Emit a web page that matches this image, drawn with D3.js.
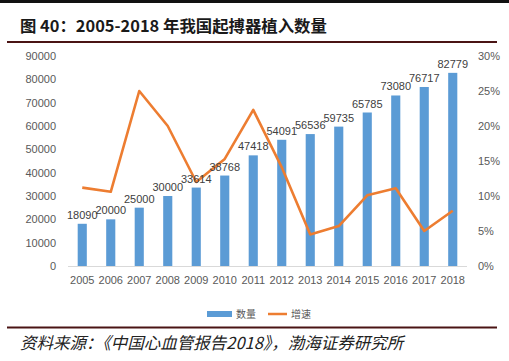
<!DOCTYPE html>
<html><head><meta charset="utf-8">
<script src="https://cdn.jsdelivr.net/npm/d3@7"></script>
<style>body{margin:0;background:#fff}svg{display:block}</style>
</head><body>
<script>
const years = ["2005","2006","2007","2008","2009","2010","2011","2012","2013","2014","2015","2016","2017","2018"];
const counts = [18090,20000,25000,30000,33614,38768,47418,54091,56536,59735,65785,73080,76717,82779];
const growth = [0.112,0.106,0.25,0.20,0.12,0.153,0.223,0.141,0.045,0.057,0.101,0.111,0.05,0.079];
const leftTicks = [0,10000,20000,30000,40000,50000,60000,70000,80000,90000];
const rightTicks = [0,0.05,0.10,0.15,0.20,0.25,0.30];
const legendLabels = ["数量","增速"];
const titleText = "图 40：2005-2018 年我国起搏器植入数量";
const sourceText = "资料来源：《中国心血管报告2018》，渤海证券研究所";

const W=509,H=361;
const svg=d3.select("body").append("svg").attr("width",W).attr("height",H);
svg.append("rect").attr("width",W).attr("height",H).attr("fill","#fff");
svg.append("rect").attr("x",0).attr("y",0).attr("width",W).attr("height",3).attr("fill","#111");

svg.append("text").attr("x",20).attr("y",32).text(titleText)
  .attr("font-family","'Noto Sans CJK SC',sans-serif").attr("font-weight","bold").attr("font-size",16.4).attr("fill","#1a1a1a");
svg.append("line").attr("x1",7).attr("x2",497).attr("y1",42).attr("y2",42).attr("stroke","#4a1414").attr("stroke-width",2);
svg.append("line").attr("x1",7).attr("x2",497).attr("y1",327.5).attr("y2",327.5).attr("stroke","#4a1414").attr("stroke-width",2);
svg.append("text").attr("x",20).attr("y",349).text(sourceText)
  .attr("font-family","'Noto Sans CJK SC',sans-serif").attr("font-style","italic").attr("font-size",16.5).attr("fill","#222");

const x=d3.scaleBand().domain(years).range([68,467]).paddingInner(0.68).paddingOuter(0.34);
const yL=d3.scaleLinear().domain([0,90000]).range([266,56]);
const yR=d3.scaleLinear().domain([0,0.30]).range([266,56]);
const font="'Liberation Sans','DejaVu Sans',sans-serif";
const tc="#595959";

// axes
const gL=svg.append("g").attr("transform","translate(62,0)")
  .call(d3.axisLeft(yL).tickValues(leftTicks).tickSize(0).tickPadding(6).tickFormat(d3.format("d")));
const gR=svg.append("g").attr("transform","translate(472,0)")
  .call(d3.axisRight(yR).tickValues(rightTicks).tickSize(0).tickPadding(6).tickFormat(d3.format(".0%")));
const gX=svg.append("g").attr("transform","translate(0,266)")
  .call(d3.axisBottom(x).tickSize(0).tickPadding(10));
[gL,gR,gX].forEach(g=>{
  g.select(".domain").remove();
  g.selectAll("text").attr("font-family",font).attr("font-size",11).attr("fill",tc);
});
svg.append("line").attr("x1",68).attr("x2",467).attr("y1",266.5).attr("y2",266.5).attr("stroke","#d9d9d9");

// bars
svg.append("g").selectAll("rect").data(counts).join("rect")
  .attr("x",(d,i)=>x(years[i])).attr("width",x.bandwidth())
  .attr("y",d=>yL(d)).attr("height",d=>yL(0)-yL(d)).attr("fill","#5b9bd5");

// line
const line=d3.line().x((d,i)=>x(years[i])+x.bandwidth()/2).y(d=>yR(d));
svg.append("path").datum(growth).attr("d",line).attr("fill","none")
  .attr("stroke","#ed7d31").attr("stroke-width",2.6).attr("stroke-linejoin","round");

// labels
svg.append("g").selectAll("text").data(counts).join("text")
  .attr("x",(d,i)=>x(years[i])+x.bandwidth()/2).attr("y",d=>yL(d)-5)
  .attr("text-anchor","middle").attr("font-family",font).attr("font-size",11).attr("fill","#404040")
  .text(d=>d);

// legend
const lg=svg.append("g");
lg.append("rect").attr("x",207).attr("y",311).attr("width",25).attr("height",6).attr("fill","#5b9bd5");
lg.append("text").attr("x",236).attr("y",318).text(legendLabels[0]).attr("font-family","'Noto Sans CJK SC',sans-serif").attr("font-size",10).attr("fill",tc);
lg.append("line").attr("x1",268).attr("x2",287).attr("y1",314).attr("y2",314).attr("stroke","#ed7d31").attr("stroke-width",2.5);
lg.append("text").attr("x",291).attr("y",318).text(legendLabels[1]).attr("font-family","'Noto Sans CJK SC',sans-serif").attr("font-size",10).attr("fill",tc);
</script>
</body></html>
